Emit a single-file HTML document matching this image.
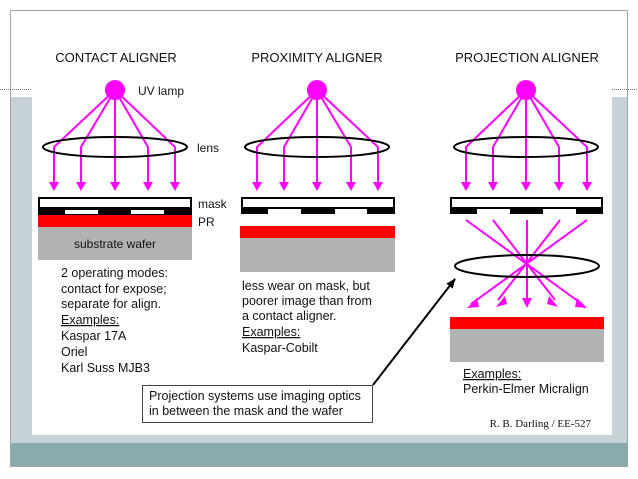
<!DOCTYPE html>
<html><head><meta charset="utf-8"><style>
html,body{margin:0;padding:0;background:#fff;width:638px;height:479px;overflow:hidden}
svg{display:block}
text{font-family:"Liberation Sans",Arial,sans-serif;fill:#111}
</style></head><body>
<svg width="638" height="479" viewBox="0 0 638 479">
<defs>
<marker id="ah" markerWidth="8" markerHeight="8" refX="7" refY="4" orient="auto" markerUnits="userSpaceOnUse" viewBox="0 0 8 8">
<path d="M0,0 L8,4 L0,8 z" fill="#ff00ff"/></marker>
<marker id="bh" markerWidth="10" markerHeight="10" refX="9" refY="5" orient="auto" markerUnits="userSpaceOnUse" viewBox="0 0 10 10">
<path d="M0,1 L10,5 L0,9 z" fill="#000"/></marker>
</defs>
<!-- frame -->
<rect x="10" y="97" width="617" height="370" fill="#c5d2d8"/>
<rect x="10" y="443" width="617" height="24" fill="#8aabab"/>
<rect x="10.5" y="10.5" width="617" height="456" fill="none" stroke="#9aa8ae" stroke-width="1"/>
<line x1="0" y1="89.5" x2="32" y2="89.5" stroke="#777" stroke-dasharray="1,1"/>
<line x1="612" y1="89.5" x2="638" y2="89.5" stroke="#777" stroke-dasharray="1,1"/>
<rect x="32" y="11" width="580" height="424" fill="#fff"/>

<!-- titles -->
<text x="116" y="62" font-size="13" text-anchor="middle">CONTACT ALIGNER</text>
<text x="317" y="62" font-size="13" text-anchor="middle">PROXIMITY ALIGNER</text>
<text x="527" y="62" font-size="13" text-anchor="middle">PROJECTION ALIGNER</text>
<text x="138" y="95" font-size="12">UV lamp</text>
<text x="197" y="152" font-size="12">lens</text>
<text x="198" y="208" font-size="12">mask</text>
<text x="198" y="226" font-size="12">PR</text>

<g stroke="#ff00ff" stroke-width="2" fill="none">
<!-- contact -->
<path d="M115,90 L54,147 L54,183"/><path d="M115,90 L81,147 L81,183"/><path d="M115,90 L115,183"/><path d="M115,90 L148,147 L148,183"/><path d="M115,90 L175,147 L175,183"/>
<!-- proximity -->
<path d="M317,90 L257,147 L257,183"/><path d="M317,90 L284,147 L284,183"/><path d="M317,90 L317,183"/><path d="M317,90 L351,147 L351,183"/><path d="M317,90 L378,147 L378,183"/>
<!-- projection -->
<path d="M526,90 L466,147 L466,183"/><path d="M526,90 L493,147 L493,183"/><path d="M526,90 L526,183"/><path d="M526,90 L559,147 L559,183"/><path d="M526,90 L587,147 L587,183"/>
<path d="M466,220 L582,304"/><path d="M493,220 L555,300"/><path d="M527,220 L527,300"/><path d="M560,220 L498,300"/><path d="M587,220 L471,304"/>
</g>
<g fill="#ff00ff">
<circle cx="115" cy="90" r="10"/><circle cx="317" cy="90" r="10"/><circle cx="526" cy="90" r="10"/>
<path d="M49,182h10l-5,9z"/><path d="M76,182h10l-5,9z"/><path d="M110,182h10l-5,9z"/><path d="M143,182h10l-5,9z"/><path d="M170,182h10l-5,9z"/>
<path d="M252,182h10l-5,9z"/><path d="M279,182h10l-5,9z"/><path d="M312,182h10l-5,9z"/><path d="M346,182h10l-5,9z"/><path d="M373,182h10l-5,9z"/>
<path d="M461,182h10l-5,9z"/><path d="M488,182h10l-5,9z"/><path d="M521,182h10l-5,9z"/><path d="M554,182h10l-5,9z"/><path d="M582,182h10l-5,9z"/>
<path d="M522,298h10l-5,10z"/>
<path d="M577,298l10,10l-12,-1z"/><path d="M549,296l9,11l-11,-3z"/>
<path d="M477,298l-10,10l12,-1z"/><path d="M505,296l-9,11l11,-3z"/>
</g>
<g fill="none" stroke="#000" stroke-width="2">
<ellipse cx="115" cy="147" rx="72" ry="10"/>
<ellipse cx="317" cy="147" rx="72" ry="10"/>
<ellipse cx="526" cy="147" rx="72" ry="10"/>
<ellipse cx="527" cy="266" rx="72" ry="11"/>
</g>

<!-- contact stack -->
<rect x="39" y="198" width="152" height="10" fill="#fff" stroke="#000" stroke-width="2"/>
<rect x="38" y="209" width="154" height="6" fill="#000"/>
<rect x="65" y="210" width="33" height="4" fill="#fff"/><rect x="131" y="210" width="33" height="4" fill="#fff"/>
<rect x="38" y="215" width="154" height="12" fill="#ff0000"/>
<rect x="38" y="227" width="154" height="33" fill="#b2b2b2"/>
<text x="115" y="248" font-size="12" text-anchor="middle">substrate wafer</text>

<!-- proximity stack -->
<rect x="242" y="198" width="152" height="10" fill="#fff" stroke="#000" stroke-width="2"/>
<rect x="241" y="208" width="27" height="6" fill="#000"/><rect x="301" y="208" width="34" height="6" fill="#000"/><rect x="367" y="208" width="28" height="6" fill="#000"/>
<rect x="240" y="226" width="155" height="12" fill="#ff0000"/>
<rect x="240" y="238" width="155" height="34" fill="#b2b2b2"/>

<!-- projection stack -->
<rect x="451" y="198" width="151" height="10" fill="#fff" stroke="#000" stroke-width="2"/>
<rect x="450" y="208" width="27" height="6" fill="#000"/><rect x="510" y="208" width="33" height="6" fill="#000"/><rect x="576" y="208" width="27" height="6" fill="#000"/>
<rect x="450" y="317" width="154" height="12" fill="#ff0000"/>
<rect x="450" y="329" width="154" height="33" fill="#b2b2b2"/>

<!-- texts -->
<g font-size="12.5">
<text x="61" y="277">2 operating modes:</text>
<text x="61" y="293">contact for expose;</text>
<text x="61" y="308">separate for align.</text>
<text x="61" y="324" text-decoration="underline">Examples:</text>
<text x="61" y="340">Kaspar 17A</text>
<text x="61" y="356">Oriel</text>
<text x="61" y="372">Karl Suss MJB3</text>
<text x="242" y="290">less wear on mask, but</text>
<text x="242" y="305">poorer image than from</text>
<text x="242" y="320">a contact aligner.</text>
<text x="242" y="336" text-decoration="underline">Examples:</text>
<text x="242" y="352">Kaspar-Cobilt</text>
<text x="463" y="378" text-decoration="underline">Examples:</text>
<text x="463" y="393">Perkin-Elmer Micralign</text>
</g>
<text x="591" y="427" font-size="11" text-anchor="end" style="font-family:'Liberation Serif',serif">R. B. Darling / EE-527</text>

<!-- callout -->
<line x1="373" y1="385" x2="455" y2="279" stroke="#000" stroke-width="2" marker-end="url(#bh)"/>
<rect x="142.5" y="385.5" width="230" height="37" fill="#fff" stroke="#444" stroke-width="1"/>
<text x="149" y="400" font-size="12.5">Projection systems use imaging optics</text>
<text x="149" y="415" font-size="12.5">in between the mask and the wafer</text>
</svg>
</body></html>
